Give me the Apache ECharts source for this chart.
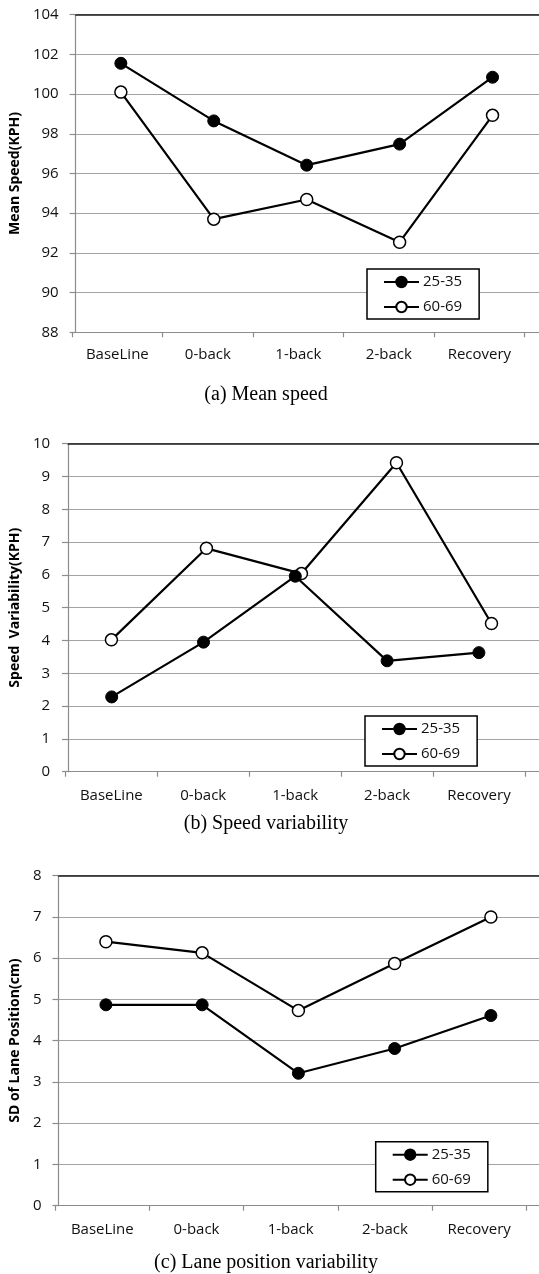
<!DOCTYPE html>
<html>
<head>
<meta charset="utf-8">
<script src="https://cdn.jsdelivr.net/npm/echarts@6/dist/echarts.min.js"></script>
<style>
html,body{margin:0;padding:0;background:#fff;}
#chart{width:539px;height:1274px;}
</style>
</head>
<body>
<div id="chart"></div>
<script>
// ---- data ----
const categories = ['BaseLine', '0-back', '1-back', '2-back', 'Recovery'];
const seriesNames = ['25-35', '60-69'];

const meanSpeedYoung = [101.55, 98.65, 96.42, 97.48, 100.85];
const meanSpeedOld   = [100.1, 93.7, 94.69, 92.54, 98.93];

const speedVarYoung = [2.28, 3.95, 5.96, 3.38, 3.63];
const speedVarOld   = [4.02, 6.81, 6.04, 9.42, 4.52];

const laneSdYoung = [4.87, 4.87, 3.21, 3.81, 4.61];
const laneSdOld   = [6.40, 6.13, 4.73, 5.87, 7.00];

const meanSpeedTicks = [88, 90, 92, 94, 96, 98, 100, 102, 104];
const speedVarTicks  = [0, 1, 2, 3, 4, 5, 6, 7, 8, 9, 10];
const laneSdTicks    = [0, 1, 2, 3, 4, 5, 6, 7, 8];

const axisTitles = ['Mean Speed(KPH)', 'Speed  Variability(KPH)', 'SD of Lane Position(cm)'];
const captions = ['(a) Mean speed', '(b) Speed variability', '(c) Lane position variability'];

// ---- layout / style ----
const panels = [
  { young: meanSpeedYoung, old: meanSpeedOld, ticks: meanSpeedTicks,
    top: 14.7, bottom: 332.3, axisX: 74, labelLeft: 72.1, labelWidth: 452.5,
    dataGrids: [[74.4, 466.3], [74.4, 466.3]], yLabelMargin: 17, xLabelMargin: 15,
    legend: { left: 367, top: 269 }, captionTop: 385 },
  { young: speedVarYoung, old: speedVarOld, ticks: speedVarTicks,
    top: 443.7, bottom: 771.7, axisX: 68, labelLeft: 65.4, labelWidth: 459.5,
    dataGrids: [[65.8, 459], [63.9, 478]], yLabelMargin: 18, xLabelMargin: 16.5,
    legend: { left: 365, top: 716 }, captionTop: 814 },
  { young: laneSdYoung, old: laneSdOld, ticks: laneSdTicks,
    top: 875.7, bottom: 1205.7, axisX: 57.3, labelLeft: 55.2, labelWidth: 471,
    dataGrids: [[57.8, 485], [57.8, 485]], yLabelMargin: 17, xLabelMargin: 17,
    legend: { left: 375.7, top: 1141.7 }, captionTop: 1253 }
];

const sans = '"Open Sans", "Noto Sans", sans-serif';
const gridGray = '#a3a3a3';
const axisGray = '#8c8c8c';

const grid = [], xAxis = [], yAxis = [], series = [], legend = [], title = [];

panels.forEach((p, pi) => {
  const h = p.bottom - p.top;
  const yMin = p.ticks[0], yMax = p.ticks[p.ticks.length - 1], yStep = p.ticks[1] - p.ticks[0];

  // background grid: gridlines, y axis, bottom/top lines
  const gB = grid.length;
  grid.push({ left: p.axisX, right: 0, top: p.top, height: h, containLabel: false });
  xAxis.push({ type: 'category', data: categories, gridIndex: gB, position: 'bottom',
    axisLine: { show: true, lineStyle: { color: axisGray, width: 1.2 } },
    axisTick: { show: false }, axisLabel: { show: false }, splitLine: { show: false } });
  xAxis.push({ type: 'category', data: categories, gridIndex: gB, position: 'top',
    axisLine: { show: true, onZero: false, lineStyle: { color: '#1a1a1a', width: 1.6 } },
    axisTick: { show: false }, axisLabel: { show: false }, splitLine: { show: false } });
  yAxis.push({ type: 'value', gridIndex: gB, min: yMin, max: yMax, interval: yStep,
    name: axisTitles[pi], nameLocation: 'middle', nameGap: p.axisX - 24, nameRotate: 90,
    nameTextStyle: { fontFamily: sans, fontWeight: 'bold', fontSize: 14, color: '#000' },
    axisLine: { show: true, lineStyle: { color: axisGray, width: 1.2 } },
    axisTick: { show: true, length: 6, lineStyle: { color: axisGray, width: 1.2 } },
    axisLabel: { show: true, margin: p.yLabelMargin, fontFamily: sans, fontSize: 15, color: '#111' },
    splitLine: { show: true, lineStyle: { color: gridGray, width: 1.2 } } });

  // label grid: category ticks and labels
  const gL = grid.length;
  grid.push({ left: p.labelLeft, width: p.labelWidth, top: p.top, height: h });
  xAxis.push({ type: 'category', data: categories, gridIndex: gL, boundaryGap: true,
    axisLine: { show: false },
    axisTick: { show: true, length: 5, lineStyle: { color: axisGray, width: 1.2 } },
    axisLabel: { show: true, margin: p.xLabelMargin, fontFamily: sans, fontSize: 15, color: '#111' },
    splitLine: { show: false } });
  yAxis.push({ type: 'value', gridIndex: gL, min: yMin, max: yMax, show: false });

  // data grids
  const dataSets = [p.young, p.old];
  dataSets.forEach((vals, si) => {
    const gD = grid.length;
    const [dl, dw] = p.dataGrids[si];
    grid.push({ left: dl, width: dw, top: p.top, height: h });
    const xi = xAxis.length, yi = yAxis.length;
    xAxis.push({ type: 'category', data: categories, gridIndex: gD, show: false });
    yAxis.push({ type: 'value', gridIndex: gD, min: yMin, max: yMax, show: false });
    series.push({
      name: seriesNames[si], type: 'line', xAxisIndex: xi, yAxisIndex: yi,
      data: vals, symbol: 'circle', symbolSize: 12, z: si === 0 ? 4 : 3,
      lineStyle: { color: '#000', width: 2.2 },
      itemStyle: si === 0 ? { color: '#000', borderColor: '#000', borderWidth: 1 }
                          : { color: '#fff', borderColor: '#000', borderWidth: 1.5 },
      emphasis: { disabled: true }
    });
  });

  legend.push({
    data: seriesNames, left: p.legend.left, top: p.legend.top, orient: 'vertical',
    selectedMode: false, itemWidth: 35, itemHeight: 13, itemGap: 7,
    padding: [4, 17, 3, 16], borderColor: '#000', borderWidth: 1.5, backgroundColor: '#fff',
    textStyle: { fontFamily: sans, fontSize: 15, color: '#111', lineHeight: 18, padding: [0, 0, 0, -1] }
  });

  title.push({ text: captions[pi], left: 266, textAlign: 'center', top: p.captionTop, padding: 0,
    textStyle: { fontFamily: '"Liberation Serif", "Times New Roman", serif', fontWeight: 'normal', fontSize: 20, color: '#000' } });
});

const chart = echarts.init(document.getElementById('chart'), null, { renderer: 'canvas' });
chart.setOption({ animation: false, backgroundColor: '#fff', grid, xAxis, yAxis, series, legend, title });
</script>
</body>
</html>
